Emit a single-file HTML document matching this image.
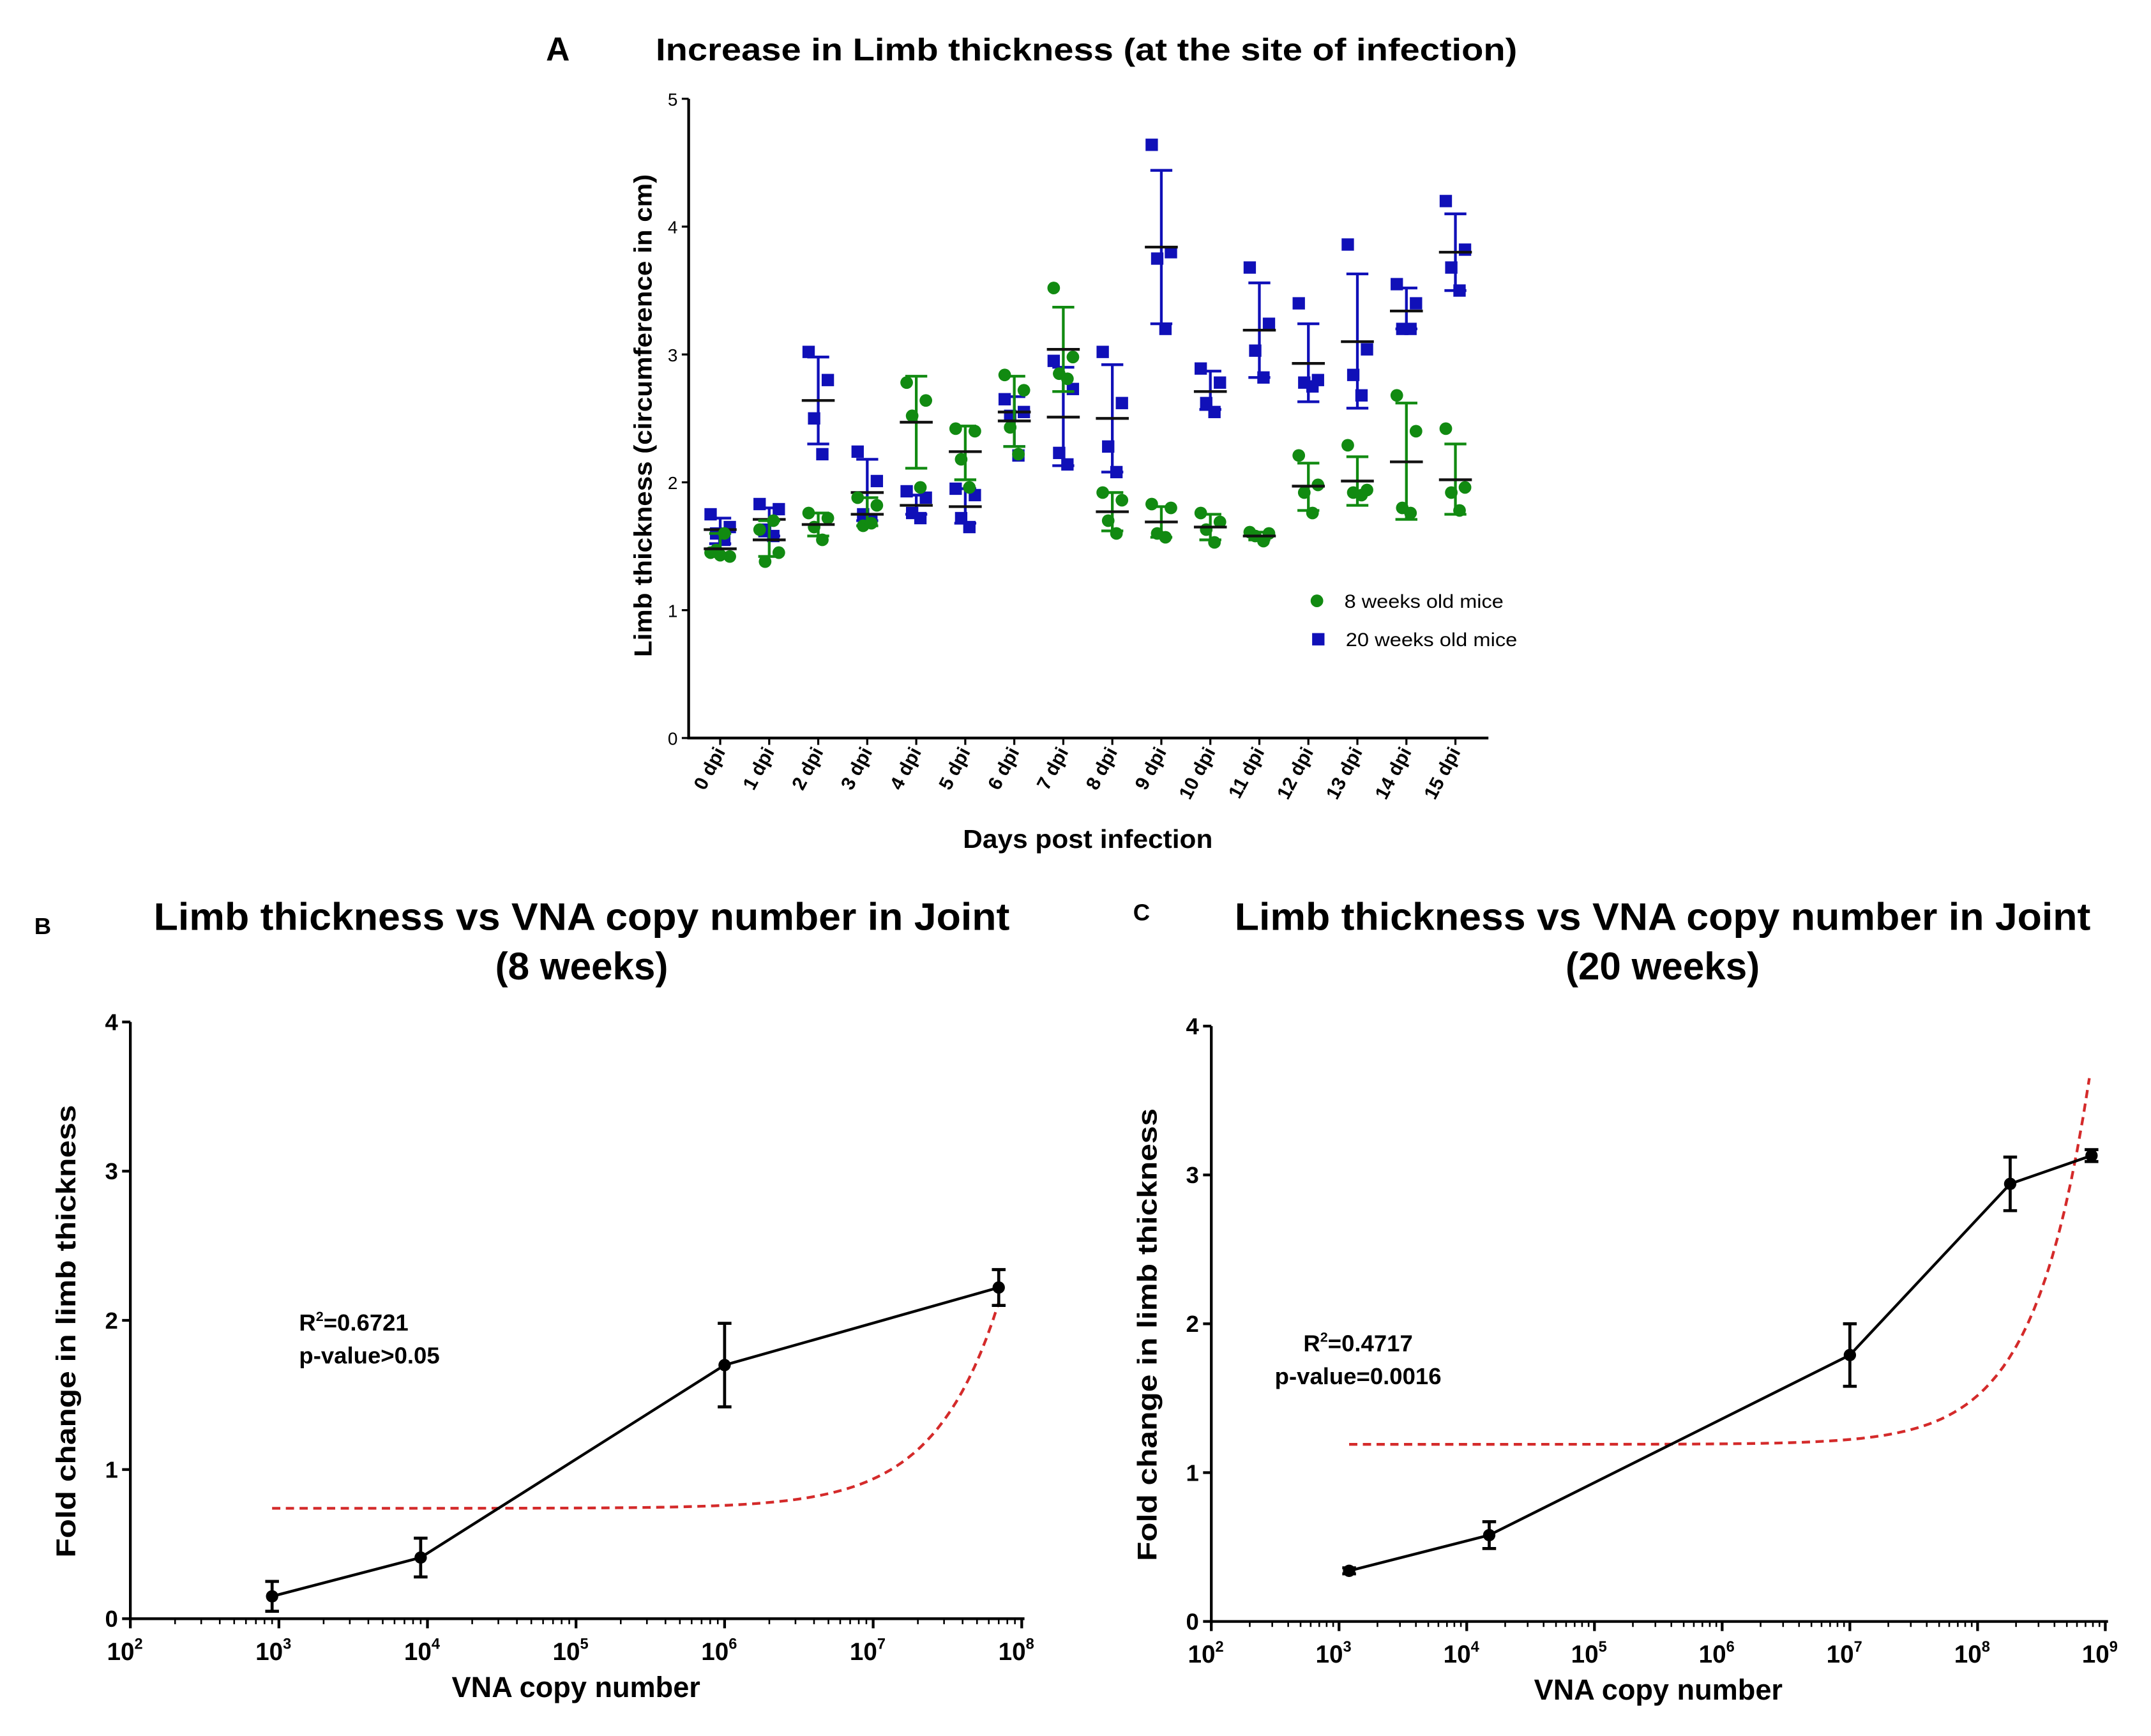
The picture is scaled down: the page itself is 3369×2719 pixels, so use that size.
<!DOCTYPE html>
<html><head><meta charset="utf-8"><style>html,body{margin:0;padding:0;background:#fff}svg{display:block}text{font-family:"Liberation Sans",sans-serif}</style></head>
<body>
<svg id="fig" width="3369" height="2719" viewBox="0 0 1568 1265.5" xmlns="http://www.w3.org/2000/svg">
<g id="pa"></g>
<g id="pb"></g>
<g id="pc"></g>
</svg>
<script>
// ---- Panel A data ----
const categoriesA = ["0 dpi","1 dpi","2 dpi","3 dpi","4 dpi","5 dpi","6 dpi","7 dpi","8 dpi","9 dpi","10 dpi","11 dpi","12 dpi","13 dpi","14 dpi","15 dpi"];
const yTicksA = [0,1,2,3,4,5];
const greenMean = [1.48,1.55,1.67,1.75,2.47,2.24,2.48,3.04,1.77,1.69,1.65,1.58,1.97,2.01,2.16,2.02];
const greenLo = [1.42,1.42,1.58,1.66,2.11,2.02,2.28,2.71,1.62,1.57,1.55,1.55,1.78,1.82,1.71,1.75];
const greenHi = [1.60,1.70,1.76,1.88,2.83,2.44,2.83,3.37,1.92,1.81,1.75,1.61,2.15,2.20,2.62,2.30];
const greenPts = [[1.45,1.42,1.47,1.60,1.43],[1.63,1.45,1.38,1.70],[1.76,1.72,1.65,1.55],[1.88,1.82,1.66,1.68],[2.78,2.64,2.52,1.96],[2.42,2.40,2.18,1.96],[2.84,2.72,2.43,2.22],[3.52,2.98,2.85,2.81],[1.92,1.86,1.70,1.60],[1.83,1.80,1.60,1.57],[1.76,1.69,1.63,1.53],[1.61,1.60,1.58,1.54],[2.21,1.98,1.92,1.76],[2.29,1.94,1.92,1.90],[2.68,2.40,1.80,1.76],[2.42,1.96,1.92,1.78]];
const blueMean = [1.63,1.71,2.64,1.92,1.82,1.81,2.55,2.51,2.50,3.84,2.71,3.19,2.93,3.10,3.34,3.80];
const blueLo = [1.52,1.58,2.30,1.70,1.75,1.68,2.28,2.13,2.08,3.24,2.57,2.82,2.63,2.58,3.20,3.50];
const blueHi = [1.72,1.80,2.98,2.18,1.90,1.95,2.67,2.90,2.92,4.44,2.87,3.56,3.24,3.63,3.52,4.10];
const bluePts = [[1.75,1.65,1.60,1.55],[1.83,1.79,1.63,1.58],[3.02,2.80,2.50,2.22],[2.24,2.01,1.75,1.70],[1.93,1.88,1.76,1.72],[1.95,1.90,1.72,1.65],[2.65,2.55,2.52,2.21],[2.95,2.73,2.23,2.14],[3.02,2.62,2.28,2.08],[4.64,3.80,3.75,3.20],[2.89,2.78,2.62,2.55],[3.68,3.24,3.03,2.82],[3.40,2.80,2.78,2.75],[3.86,3.04,2.84,2.68],[3.55,3.40,3.20,3.20],[4.20,3.82,3.68,3.50]];
// ---- Panel B data ----
const xB = [900,9000,1000000,70000000];
const yB = [0.15,0.41,1.70,2.22];
const eB = [0.10,0.13,0.28,0.12];
const fitB = [0.74,1.97e-8];
const fitRangeB = [900,70000000];
const decadesB = [2,3,4,5,6,7,8];
const yTicksB = [0,1,2,3,4];
// ---- Panel C data ----
const xC = [1200,15000,10000000,180000000,780000000];
const yC = [0.34,0.58,1.79,2.94,3.13];
const eC = [0.02,0.09,0.21,0.18,0.04];
const fitC = [1.19,3.28e-9];
const fitRangeC = [1200,750000000];
const decadesC = [2,3,4,5,6,7,8,9];
const yTicksC = [0,1,2,3,4];

const NS="http://www.w3.org/2000/svg";
function mk(parent,tag,attrs,txt){const e=document.createElementNS(NS,tag);for(const k in attrs)e.setAttribute(k,attrs[k]);if(txt!==undefined)e.textContent=txt;parent.appendChild(e);return e;}

// ===== Panel A =====
(function(){
const g=document.getElementById('pa');
const X0=502,X1=1085,Y0=538,Y5=72;
const ys=v=>Y0-(Y0-Y5)*v/5;
const xs=i=>525+i*35.73;
let t;
t=mk(g,'text',{x:398,y:44,'font-size':24,'font-weight':'bold'},'A');

t=mk(g,'text',{x:792,y:44,'font-size':23,'font-weight':'bold','text-anchor':'middle',textLength:628,lengthAdjust:'spacingAndGlyphs'},'Increase in Limb thickness (at the site of infection)');

let ax=mk(g,'path',{d:`M${X0},${Y5} V${Y0} H${X1}`,stroke:'#000','stroke-width':2,fill:'none'});

yTicksA.forEach(v=>{mk(g,'line',{x1:X0-5,x2:X0,y1:ys(v),y2:ys(v),stroke:'#000','stroke-width':1.5});
 const l=mk(g,'text',{x:X0-8,y:ys(v)+5,'font-size':13,'text-anchor':'end'},v);
 });
t=mk(g,'text',{x:0,y:0,'font-size':18,'font-weight':'bold','text-anchor':'middle',transform:'translate(475,303) rotate(-90)',textLength:352,lengthAdjust:'spacingAndGlyphs'},'Limb thickness (circumference in cm)');

categoriesA.forEach((c,i)=>{const x=xs(i);
 mk(g,'line',{x1:x,x2:x,y1:Y0,y2:Y0+5,stroke:'#000','stroke-width':1.5});
 const l=mk(g,'text',{x:0,y:0,'font-size':14,'font-weight':'bold','text-anchor':'end',transform:`translate(${x+4},${Y0+10}) rotate(-62)`},c);
 });
t=mk(g,'text',{x:793,y:618,'font-size':19,'font-weight':'bold','text-anchor':'middle',textLength:182,lengthAdjust:'spacingAndGlyphs'},'Days post infection');

const offs=[-7,7,-3,3,0,-10,10];
function series(mean,lo,hi,pts,color,shape,nm){
 mean.forEach((m,i)=>{const x=xs(i);
  const eb=mk(g,'path',{d:`M${x},${ys(lo[i])} V${ys(hi[i])} M${x-8},${ys(lo[i])} H${x+8} M${x-8},${ys(hi[i])} H${x+8}`,stroke:color,'stroke-width':2,fill:'none'});
  
  pts[i].forEach((v,j)=>{const px=x+offs[j];let p;
   if(shape==='c')p=mk(g,'circle',{cx:px,cy:ys(v),r:4.6,fill:color});
   else p=mk(g,'rect',{x:px-4.5,y:ys(v)-4.5,width:9,height:9,fill:color});
   });
  const ml=mk(g,'line',{x1:x-12,x2:x+12,y1:ys(m),y2:ys(m),stroke:'#111','stroke-width':2});
  
 });
}
series(blueMean,blueLo,blueHi,bluePts,'#1010b8','s','blue-20wk');
series(greenMean,greenLo,greenHi,greenPts,'#118a11','c','green-8wk');
let le=mk(g,'g',{});
mk(le,'circle',{cx:960,cy:438,r:4.6,fill:'#118a11'});mk(le,'text',{x:980,y:443,'font-size':14,textLength:116,lengthAdjust:'spacingAndGlyphs'},'8 weeks old mice');
le=mk(g,'g',{});
mk(le,'rect',{x:956.5,y:461.5,width:9,height:9,fill:'#1010b8'});mk(le,'text',{x:981,y:471,'font-size':14,textLength:125,lengthAdjust:'spacingAndGlyphs'},'20 weeks old mice');
})();

// ===== Panels B/C =====
function logPanel(id,o){
const g=document.getElementById(id);
const xs=v=>o.X0+(Math.log10(v)-o.d0)*o.dec;
const ys=v=>o.Y0-o.unit*v;
let t;
t=mk(g,'text',{x:o.lx,y:o.ly,'font-size':17,'font-weight':'bold'},o.letter);

t=mk(g,'text',{x:o.tc,y:678,'font-size':28,'font-weight':'bold','text-anchor':'middle',textLength:624,lengthAdjust:'spacingAndGlyphs'},'Limb thickness vs VNA copy number in Joint');

t=mk(g,'text',{x:o.tc,y:714,'font-size':28,'font-weight':'bold','text-anchor':'middle'},o.sub);

const xEnd=xs(Math.pow(10,o.decades[o.decades.length-1]));
const ax=mk(g,'path',{d:`M${o.X0},${ys(4)} V${o.Y0} H${xEnd+2}`,stroke:'#000','stroke-width':2,fill:'none'});

o.yticks.forEach(v=>{mk(g,'line',{x1:o.X0-6,x2:o.X0,y1:ys(v),y2:ys(v),stroke:'#000','stroke-width':2});
 const l=mk(g,'text',{x:o.X0-9,y:ys(v)+6,'font-size':17,'font-weight':'bold','text-anchor':'end'},v);
 });
o.decades.forEach((d,k)=>{const x=xs(Math.pow(10,d));
 mk(g,'line',{x1:x,x2:x,y1:o.Y0,y2:o.Y0+7,stroke:'#000','stroke-width':2});
 const l=mk(g,'text',{x:x-4,y:o.Y0+30,'font-size':18,'font-weight':'bold','text-anchor':'middle'},'10');
 mk(l,'tspan',{dy:-8,'font-size':11},d);
 
 if(k<o.decades.length-1)for(let m=2;m<10;m++){const xm=xs(m*Math.pow(10,d));mk(g,'line',{x1:xm,x2:xm,y1:o.Y0,y2:o.Y0+4,stroke:'#000','stroke-width':1.2});}
});
t=mk(g,'text',{x:0,y:0,'font-size':20,'font-weight':'bold','text-anchor':'middle',transform:`translate(${o.X0-40},${ys(2)+8}) rotate(-90)`,textLength:330,lengthAdjust:'spacingAndGlyphs'},'Fold change in limb thickness');

t=mk(g,'text',{x:(o.X0+xEnd)/2,y:o.Y0+57,'font-size':21,'font-weight':'bold','text-anchor':'middle'},'VNA copy number');

let d='';const a=Math.log10(o.fr[0]),b=Math.log10(o.fr[1]);
for(let i=0;i<=120;i++){const lv=a+(b-a)*i/120,v=Math.pow(10,lv);const yv=o.fit[0]+o.fit[1]*v;d+=(i?'L':'M')+xs(v).toFixed(2)+','+ys(yv).toFixed(2);}
const fc=mk(g,'path',{d:d,stroke:'#d42a2a','stroke-width':2,fill:'none','stroke-dasharray':'6,4'});

let ld='';o.x.forEach((v,i)=>{ld+=(i?'L':'M')+xs(v)+','+ys(o.y[i]);});
const ln=mk(g,'path',{d:ld,stroke:'#000','stroke-width':2,fill:'none'});

o.x.forEach((v,i)=>{const x=xs(v),yl=ys(o.y[i]-o.e[i]),yh=ys(o.y[i]+o.e[i]);
 const eb=mk(g,'path',{d:`M${x},${yl} V${yh} M${x-5},${yl} H${x+5} M${x-5},${yh} H${x+5}`,stroke:'#000','stroke-width':2.2,fill:'none'});
 
 const p=mk(g,'circle',{cx:x,cy:ys(o.y[i]),r:4.5,fill:'#000'});
 });
const an=mk(g,'text',{x:o.ax,y:o.ay,'font-size':17,'font-weight':'bold','text-anchor':o.anc},'R');
mk(an,'tspan',{dy:-7,'font-size':10},'2');mk(an,'tspan',{dy:7},o.r2);

const pv=mk(g,'text',{x:o.ax,y:o.ay+24,'font-size':17,'font-weight':'bold','text-anchor':o.anc},o.pv);

}
logPanel('pb',{X0:95,Y0:1180,unit:108.75,d0:2,dec:108.3,decades:decadesB,yticks:yTicksB,x:xB,y:yB,e:eB,fit:fitB,fr:fitRangeB,
 letter:'B',lx:25,ly:681,tc:424,sub:'(8 weeks)',ax:218,ay:970,anc:'start',r2:'=0.6721',pv:'p-value>0.05'});
logPanel('pc',{X0:883,Y0:1182,unit:108.5,d0:2,dec:93.1,decades:decadesC,yticks:yTicksC,x:xC,y:yC,e:eC,fit:fitC,fr:fitRangeC,
 letter:'C',lx:826,ly:671,tc:1212,sub:'(20 weeks)',ax:990,ay:985,anc:'middle',r2:'=0.4717',pv:'p-value=0.0016'});
</script>
</body></html>
